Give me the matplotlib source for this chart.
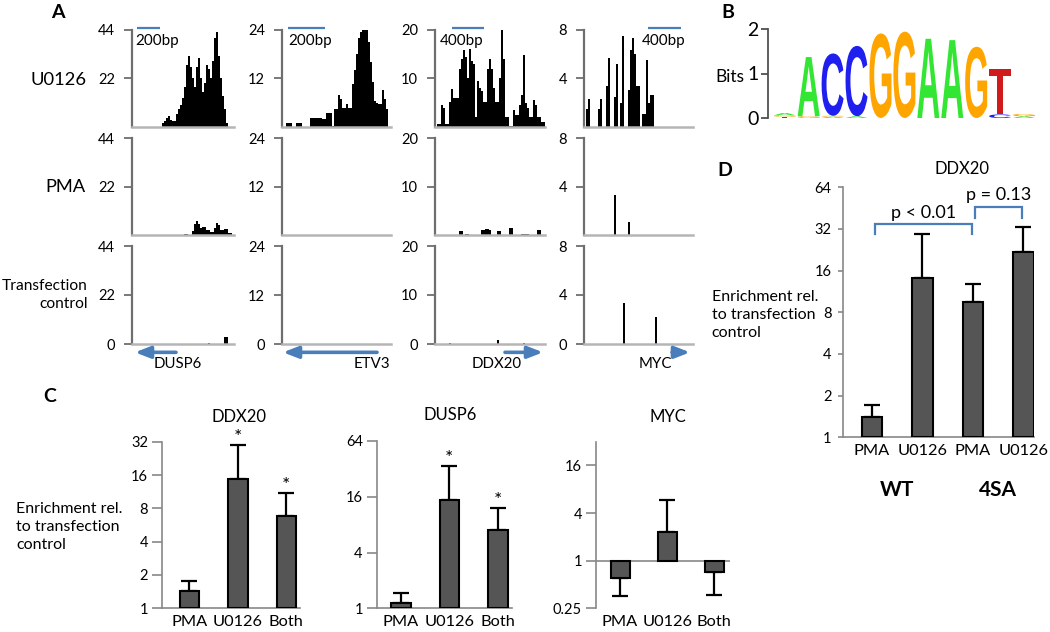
import numpy as np
import matplotlib
matplotlib.use("Agg")
import matplotlib.pyplot as plt
import matplotlib.transforms as mtransforms
from matplotlib.textpath import TextPath
from matplotlib.patches import PathPatch
from matplotlib.font_manager import FontProperties
from matplotlib.ticker import FixedLocator, FixedFormatter, NullLocator

plt.rcParams['font.family'] = ['Lato', 'DejaVu Sans']

# ---------------- Panel A data (coverage tracks, 2-unit bins) ----------------
genes = ["DUSP6", "ETV3", "DDX20", "MYC"]
conditions = ["U0126", "PMA", "Transfection\ncontrol"]
track_ymax = [44, 24, 20, 8]
scale_labels = ["200bp", "200bp", "400bp", "400bp"]
BIN = 2

dusp6_u0126_start = 30
dusp6_u0126 = [2, 2.5, 4, 5, 3, 2.5, 2.5, 6, 8, 10, 13, 18, 28, 32, 27, 22, 18,
               27, 31, 22, 16, 20, 28, 26, 22, 30, 40, 43, 32, 22, 14, 8, 2]
dusp6_pma_start = 52
dusp6_pma = [0.5, 0.5, 0, 0, 2, 5, 6.4, 5, 3, 3.8, 3.8, 2.3, 2.3, 1.5, 1.5, 3,
             5.3, 4.5, 2.3, 2.3, 2.6, 2.6, 0.8, 0.8]
dusp6_ctrl_pos = [76, 92, 94]
dusp6_ctrl = [0.5, 3.3, 3.3]

etv3_u0126_start = 4
etv3_u0126 = [1.1, 1.1, 1.1, 0, 0, 1.1, 1.1, 1.1, 0, 0, 0, 0, 2.3, 2.3, 2.3, 2.3,
              2.3, 2.3, 1.9, 1.9, 3.4, 3.4, 3.4, 0.3, 4.4, 4.4, 7.8, 7, 4.8, 4.8,
              5.6, 4.8, 4.8, 10.6, 14, 18, 22, 23.5, 24, 24, 24, 21, 16, 11, 6.4,
              6, 5.6, 5.6, 9, 7, 4.4]
etv3_pma_pos, etv3_pma = [], []
etv3_ctrl_pos, etv3_ctrl = [], []

ddx20_u0126_start = 2
ddx20_u0126 = [0.7, 0.7, 4.5, 4, 0.7, 0.7, 5.2, 7.7, 6, 6, 6, 12, 14, 15.7, 14.3,
               10, 16, 13.6, 13, 2, 9.4, 8, 7.3, 5.2, 5.2, 12, 14, 12, 8, 5.2,
               5.2, 10, 20, 14, 2, 2, 0.3, 0.3, 3.5, 2.4, 2.4, 4.5, 6.6, 14.7, 5,
               3.8, 2, 2, 5.6, 4.5, 2, 2, 1, 1]
ddx20_pma_start = 24
ddx20_pma = [0.9, 0.9, 0, 0.3, 0.3, 0, 0, 0, 0, 0, 0, 1.1, 1.1, 1.3, 1.3, 1.1, 0,
             0, 0, 0.9, 0.9, 0, 0, 0, 0, 1.5, 1.5, 0, 0, 0, 0, 0.3, 0.3, 0.3, 0.3,
             0, 0, 0, 0, 1.1, 1.1]
ddx20_ctrl_pos = [14, 62, 88]
ddx20_ctrl = [0.15, 0.8, 0.15]

myc_u0126_start = 2
myc_u0126 = [1.5, 2.3, 0, 0, 0, 0, 1.5, 2.3, 0, 0, 3.4, 5.7, 0, 0, 2.5, 5.2, 0,
             2, 7.5, 0, 0, 3, 6.3, 7.3, 6, 3.4, 3.4, 0, 1.1, 1.1, 5.5, 2, 2.6, 2.6]
myc_pma_pos = [30, 44]
myc_pma = [3.33, 1.1]
myc_ctrl_pos = [39, 71]
myc_ctrl = [3.33, 2.19]

# gene arrows: (tail, head) in track units, label position
gene_arrows = [(44, 3), (95, 1), (70, 108), (88, 106)]
gene_label_x = [46, 90, 62, 71]

# ---------------- Panel B data (sequence logo) ----------------
logo_letters = [["T", "G", "A"], ["G", "A"], ["A", "G", "C"], ["A", "C"], ["G"],
                ["G"], ["A"], ["A"], ["G"], ["C", "T"], ["A", "G"]]
logo_heights = [[0.03, 0.03, 0.05], [0.04, 1.33], [0.03, 0.02, 1.40],
                [0.04, 1.58], [1.90], [1.94], [1.78], [1.75], [1.60],
                [0.08, 1.02], [0.04, 0.05]]
logo_colors = {"A": "#33e633", "C": "#1f1fef", "G": "#ffa500", "T": "#d11a1a"}

# ---------------- Panel C data ----------------
c_categories = ["PMA", "U0126", "Both"]
ddx20_c_vals = [1.43, 14.6, 6.83]
ddx20_c_errtop = [1.75, 29.9, 11.1]
dusp6_c_vals = [1.13, 14.9, 7.05]
dusp6_c_errtop = [1.45, 34.7, 12.1]
myc_c_vals = [0.60, 2.29, 0.73]
myc_c_errend = [0.36, 5.85, 0.37]
c_signif = [False, True, True]

# ---------------- Panel D data ----------------
d_categories = ["PMA", "U0126", "PMA", "U0126"]
d_groups = ["WT", "4SA"]
d_vals = [1.41, 14.2, 9.43, 21.9]
d_errtop = [1.71, 29.4, 12.9, 32.8]
d_brackets = [(0, 2, 29.4, 34.6, "p < 0.01", 41.8), (2, 3, 38.5, 46.2, "p = 0.13", 56.1)]

# ---------------- figure ----------------
W, H = 1050, 632
fig = plt.figure(figsize=(W / 100, H / 100), dpi=100)


def px_axes(x0, y0, x1, y1):
    return fig.add_axes([x0 / W, 1 - y1 / H, (x1 - x0) / W, (y1 - y0) / H])


def ftext(x, y, s, **kw):
    return fig.text(x / W, 1 - y / H, s, **kw)


# each track: (kind, positions/start, heights)
tracks = {
    "DUSP6": [("dense", dusp6_u0126_start, dusp6_u0126),
              ("dense", dusp6_pma_start, dusp6_pma),
              ("sparse", dusp6_ctrl_pos, dusp6_ctrl)],
    "ETV3": [("dense", etv3_u0126_start, etv3_u0126),
             ("sparse", etv3_pma_pos, etv3_pma),
             ("sparse", etv3_ctrl_pos, etv3_ctrl)],
    "DDX20": [("dense", ddx20_u0126_start, ddx20_u0126),
              ("dense", ddx20_pma_start, ddx20_pma),
              ("sparse", ddx20_ctrl_pos, ddx20_ctrl)],
    "MYC": [("dense", myc_u0126_start, myc_u0126),
            ("sparse", myc_pma_pos, myc_pma),
            ("sparse", myc_ctrl_pos, myc_ctrl)],
}

col_px = [(132, 234), (282, 391), (435, 545), (584, 693)]
row_px = [(29.5, 127), (138.5, 235), (246, 344)]
scalebar_units = [(5, 28, 3), (6, 43, 6), (17, 49, 5), (64, 97, 58)]
SPINE = "#6e6e6e"
BLUE = "#4a7ebb"

for c, gene in enumerate(genes):
    x0, x1 = col_px[c]
    ymax = track_ymax[c]
    for r in range(3):
        y0, y1 = row_px[r]
        ax = px_axes(x0, y0, x1, y1)
        kind, pos, h = tracks[gene][r]
        if kind == "dense":
            edges = pos + BIN * np.arange(len(h) + 1)
            ax.stairs(h, edges, fill=True, color="black", lw=0, baseline=0)
        elif len(h):
            ax.bar(pos, h, width=BIN, align="edge", color="black", lw=0)
        ax.set_xlim(0, x1 - x0)
        ax.set_ylim(0, ymax)
        for s in ["top", "right"]:
            ax.spines[s].set_visible(False)
        ax.spines["left"].set_color(SPINE)
        ax.spines["left"].set_linewidth(1.6)
        ax.spines["bottom"].set_color("#b5b5b5")
        ax.spines["bottom"].set_linewidth(1.8)
        ax.set_xticks([])
        ticks = [ymax / 2, ymax] if r < 2 else [0, ymax / 2, ymax]
        ax.yaxis.set_major_locator(FixedLocator(ticks))
        ax.yaxis.set_major_formatter(FixedFormatter([f"{t:g}" for t in ticks]))
        ax.tick_params(axis="y", direction="out", length=5.8, width=1.3,
                       color=SPINE, labelsize=10.5, pad=6.5)
        if r == 0:
            a, b, tx = scalebar_units[c]
            tr = mtransforms.blended_transform_factory(ax.transData, ax.transAxes)
            ax.plot([a, b], [1.016, 1.016], transform=tr, color=BLUE, lw=1.6,
                    clip_on=False, solid_capstyle="butt")
            ax.text(tx, 0.885, scale_labels[c], transform=tr, ha="left",
                    va="center", fontsize=11)
        if r == 2:
            tail, head = gene_arrows[c]
            ax.annotate("", xy=(head, -0.085), xytext=(tail, -0.085),
                        xycoords=("data", "axes fraction"),
                        textcoords=("data", "axes fraction"),
                        arrowprops=dict(arrowstyle="-|>,head_length=0.9,head_width=0.35",
                                        lw=2.6, color=BLUE, mutation_scale=10,
                                        shrinkA=0, shrinkB=0), annotation_clip=False)
            ax.text(gene_label_x[c], -0.20, gene, transform=mtransforms.blended_transform_factory(
                ax.transData, ax.transAxes), ha="center", va="center", fontsize=10.8)

ftext(86, 80, conditions[0], ha="right", va="center", fontsize=13.2)
ftext(86, 187, conditions[1], ha="right", va="center", fontsize=13.2)
ftext(88, 295, conditions[2], ha="right", va="center", fontsize=11.2,
      multialignment="right", linespacing=1.4)

# ---------------- Panel B ----------------
axB = px_axes(768, 29, 1036, 118)
axB.set_xlim(0.3, 11.5)
axB.set_ylim(0, 2)
for s in ["top", "right", "bottom"]:
    axB.spines[s].set_visible(False)
axB.spines["left"].set_color("#505050")
axB.spines["left"].set_linewidth(1.3)
axB.set_xticks([])
axB.yaxis.set_major_locator(FixedLocator([0, 1, 2]))
axB.yaxis.set_major_formatter(FixedFormatter(["0", "1", "2"]))
axB.tick_params(axis="y", direction="out", length=5, width=1.3, color="#505050",
                labelsize=14, pad=2)
logo_fp = FontProperties(family="Liberation Sans", weight="bold")
for i, (lets, hts) in enumerate(zip(logo_letters, logo_heights)):
    xc = i + 1
    base = 0.0
    for let, hgt in zip(lets, hts):
        tp = TextPath((0, 0), let, size=1, prop=logo_fp)
        bb = tp.get_extents()
        w = 0.92
        t = (mtransforms.Affine2D().translate(-bb.x0, -bb.y0)
             .scale(w / bb.width, hgt / bb.height).translate(xc - w / 2, base))
        axB.add_patch(PathPatch(t.transform_path(tp), color=logo_colors[let], lw=0))
        base += hgt
ftext(744, 77, "Bits", ha="right", va="center", fontsize=12.5)

# ---------------- Panel C ----------------
BAR = "#555555"
AX_GRAY = "#888888"


def style_bar_axes(ax, ticks, labels, tlen, pad):
    for s in ["top", "right"]:
        ax.spines[s].set_visible(False)
    for s in ["left", "bottom"]:
        ax.spines[s].set_color(AX_GRAY)
        ax.spines[s].set_linewidth(1.2)
    ax.set_yscale("log", base=2)
    ax.yaxis.set_major_locator(FixedLocator(ticks))
    ax.yaxis.set_major_formatter(FixedFormatter(labels))
    ax.yaxis.set_minor_locator(NullLocator())
    ax.tick_params(axis="y", direction="out", length=tlen, width=1.2,
                   color=AX_GRAY, labelsize=10.5, pad=pad)
    ax.tick_params(axis="x", length=0, labelsize=11.8, pad=5)


def draw_bars(ax, vals, ends, width):
    x = np.arange(len(vals))
    v = np.array(vals)
    ax.bar(x, v - 1, bottom=1, width=width, color=BAR, edgecolor="black", lw=1.5,
           zorder=3)
    for xi, vi, ei in zip(x, v, ends):
        if ei > vi:
            yerr = [[0], [ei - vi]]
        else:
            yerr = [[vi - ei], [0]]
        ax.errorbar([xi], [vi], yerr=yerr, fmt="none", ecolor="black",
                    elinewidth=1.6, capsize=6, capthick=1.6, zorder=2)
    return x


c_specs = [
    ("DDX20", (162, 441.7, 300, 608.3), ddx20_c_vals, ddx20_c_errtop, (1, 32),
     [1, 2, 4, 8, 16, 32], (-0.567, 2.28), (239, 416.7)),
    ("DUSP6", (376.7, 441, 512, 608.3), dusp6_c_vals, dusp6_c_errtop, (1, 64),
     [1, 4, 16, 64], (-0.5, 2.29), (450, 415)),
    ("MYC", (596, 441.7, 730, 608.3), myc_c_vals, myc_c_errend, (0.25, 32),
     [0.25, 1, 4, 16], (-0.51, 2.33), (667.7, 416.7)),
]
for title, box, vals, ends, ylim, ticks, xlim, tpos in c_specs:
    ax = px_axes(*box)
    style_bar_axes(ax, ticks, [f"{t:g}" for t in ticks], 7, 3)
    x = draw_bars(ax, vals, ends, 0.40)
    ax.set_ylim(*ylim)
    ax.set_xlim(*xlim)
    ax.set_xticks(x)
    ax.set_xticklabels(c_categories)
    ftext(tpos[0], tpos[1], title, ha="center", va="center", fontsize=12)
    if title == "MYC":
        ax.spines["bottom"].set_visible(False)
        ax.axhline(1, color=AX_GRAY, lw=1.2, zorder=1)
    else:
        for xi, sig, e in zip(x, c_signif, ends):
            if sig:
                ax.annotate("*", xy=(xi, e), xytext=(0, -1), textcoords="offset points",
                            ha="center", va="bottom", fontsize=14)

ftext(16, 527, "Enrichment rel.\nto transfection\ncontrol", ha="left", va="center",
      fontsize=11.5, linespacing=1.35)

# ---------------- Panel D ----------------
axD = px_axes(843.3, 187.3, 1034, 437.3)
style_bar_axes(axD, [1, 2, 4, 8, 16, 32, 64], ["1", "2", "4", "8", "16", "32", "64"], 3.6, 5)
xd = draw_bars(axD, d_vals, d_errtop, 0.41)
axD.set_ylim(1, 64)
axD.set_xlim(-0.567, 3.21)
axD.set_xticks(xd)
axD.set_xticklabels(d_categories)
trD = mtransforms.blended_transform_factory(axD.transData, axD.transAxes)
for gi, g in enumerate(d_groups):
    axD.text(2 * gi + 0.5, -0.21, g, transform=trD, ha="center", va="center",
             fontsize=15, fontweight="bold")
for i0, i1, ylo, yhi, lab, ytxt in d_brackets:
    xa, xb = xd[i0] + 0.07, xd[i1] - 0.01
    if i0 == 2:
        xa = xd[i0] + 0.05
        xb = xd[i1] - 0.03
    axD.plot([xa, xa, xb, xb], [ylo, yhi, yhi, ylo], color=BLUE, lw=1.6,
             clip_on=False, solid_joinstyle="miter")
    axD.text((xa + xb) / 2, ytxt, lab, ha="center", va="center", fontsize=13,
             clip_on=False)
ftext(961.7, 169.3, "DDX20", ha="center", va="center", fontsize=12)
ftext(711.7, 315, "Enrichment rel.\nto transfection\ncontrol", ha="left", va="center",
      fontsize=11.5, linespacing=1.4)

# ---------------- panel letters ----------------
for lab, (px, py) in zip("ABCD", [(58, 12), (728, 12), (50, 397), (725, 170)]):
    ftext(px, py, lab, ha="center", va="center", fontsize=14, fontweight="bold")

fig.savefig("out.png", dpi=100)
